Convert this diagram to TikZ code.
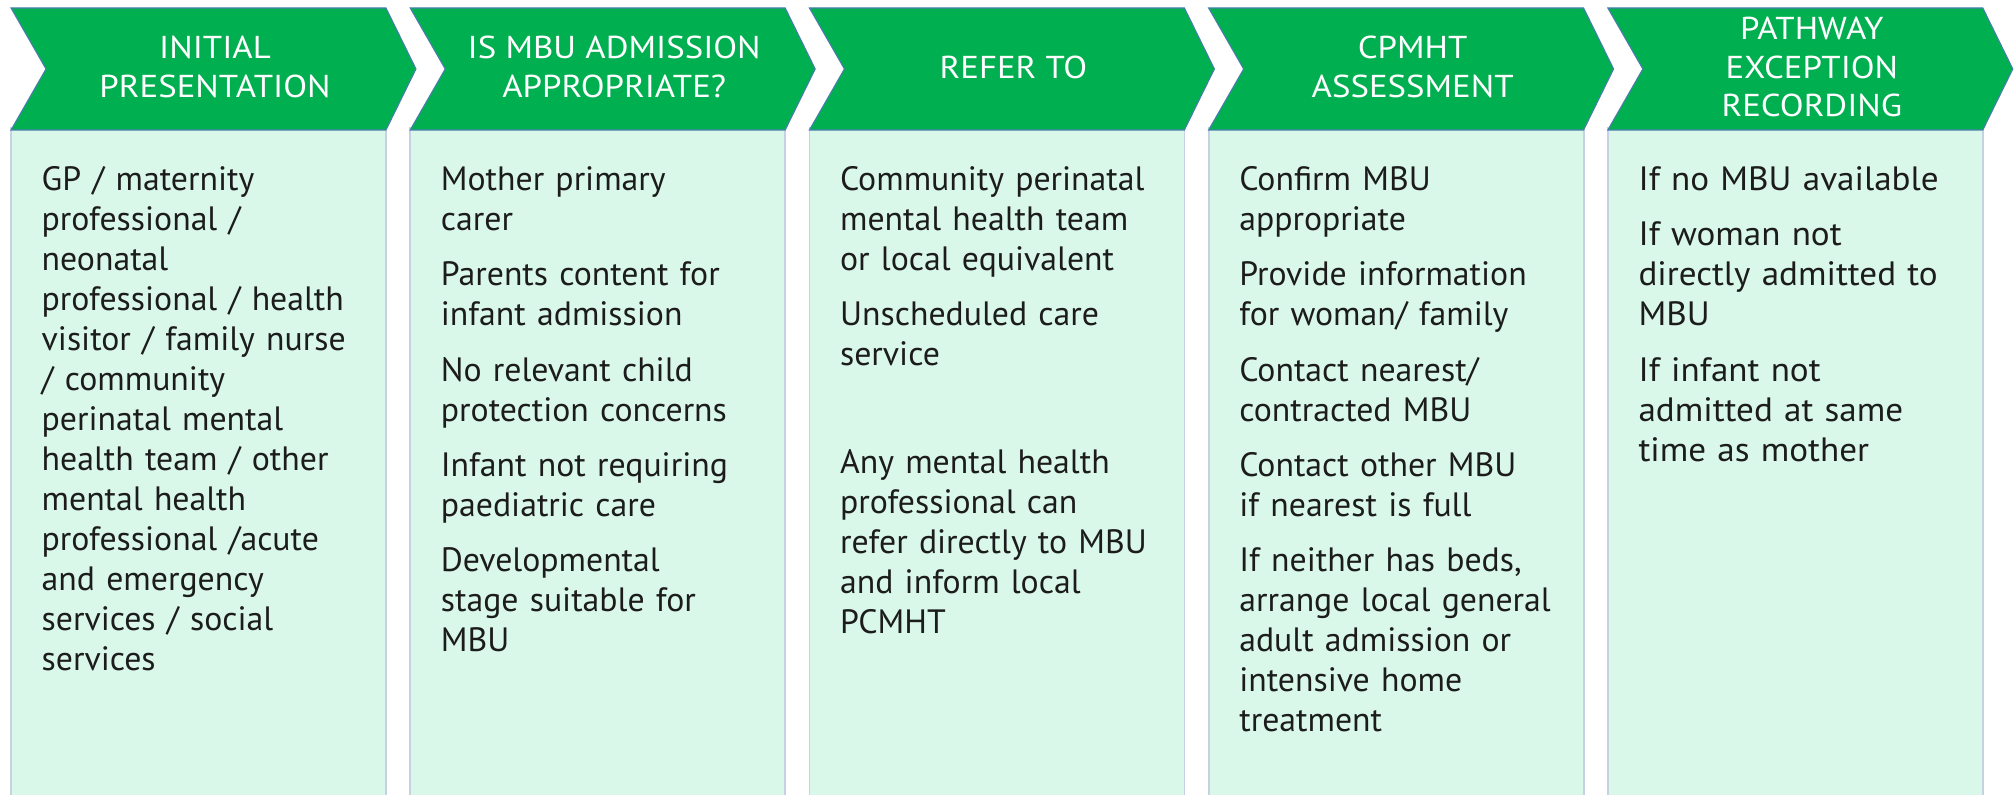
\documentclass[tikz,border=0pt]{standalone}
\usepackage{fontspec}
\setmainfont{PT Sans}
\newfontfamily\headfont[FakeStretch=1.1]{PT Sans}
\newfontfamily\widefont[FakeStretch=1.04]{PT Sans}
\definecolor{chevgreen}{HTML}{00B050}
\definecolor{chevedge}{HTML}{4A7DAE}
\definecolor{boxmint}{HTML}{D9F8E9}
\definecolor{boxedge}{HTML}{C6D2E3}
\definecolor{bodytext}{HTML}{1C1C1C}
\tikzset{
  chev/.style={fill=chevgreen, draw=chevedge, line width=0.3pt},
  panel/.style={fill=boxmint, draw=boxedge, line width=0.5pt},
  head/.style={text=white, align=center, inner sep=0pt,
    font=\headfont\fontsize{9pt}{11pt}\selectfont},
  body/.style={text=bodytext, align=left, text width=3.45cm, anchor=north west,
    inner sep=0pt, font=\fontsize{9.6pt}{11.38pt}\selectfont},
}
\begin{document}
\begin{tikzpicture}[x=0.01cm, y=-0.01cm]
    \useasboundingbox (0,0) rectangle (2016,795);
    \clip (0,0) rectangle (2016,795);
    % one panel and one chevron per stage
    \foreach \i/\name in {0/init,1/mbu,2/refer,3/cpmht,4/except} {
        \pgfmathsetmacro\xl{11+399.2*\i}
        \draw[panel] (\xl,128) rectangle ++(375,700);
        \draw[chev] (\xl,8) -- ++(375,0) -- ++(30,61) -- ++(-30,61)
            -- ++(-375,0) -- ++(35,-61) -- cycle;
        \coordinate (\name) at (\xl+204,67);
        \coordinate (\name T) at (\xl+30,162);
    }
    \node[head] (initH) at (init) {INITIAL\\PRESENTATION};
    \node[head] (mbuH) at (mbu) {IS MBU ADMISSION\\APPROPRIATE?};
    \node[head] (referH) at (refer) {REFER TO};
    \node[head] (cpmhtH) at (cpmht) {CPMHT\\ASSESSMENT};
    \node[head] (exceptH) at (except) {PATHWAY\\EXCEPTION\\RECORDING};
    % panel texts
    \node[body] (initB) at (initT) {\strut GP / maternity\\
        professional /\\ neonatal\\ professional / health\\
        visitor / family nurse\\ / community\\ perinatal mental\\
        health team / other\\ mental health\\ professional /acute\\
        and emergency\\ services / social\\ services};
    \node[body] (mbuB) at (mbuT) {\strut Mother primary\\ carer\\[4.3pt]
        Parents content for\\ infant admission\\[4.3pt]
        No relevant child\\ protection concerns\\[4.3pt]
        Infant not requiring\\ paediatric care\\[4.3pt]
        Developmental\\ stage suitable for\\ MBU};
    \node[body] (referB) at (referT) {\strut Community perinatal\\
        mental health team\\ or local equivalent\\[4.3pt]
        Unscheduled care\\ service\\[19.3pt]
        Any mental health\\ professional can\\ refer directly to MBU\\
        and inform local\\ PCMHT};
    \node[body] (cpmhtB) at (cpmhtT) {\strut Confirm MBU\\ appropriate\\[4.3pt]
        Provide information\\ for woman/ family\\[4.3pt]
        Contact nearest/\\ contracted MBU\\[4.3pt]
        Contact other MBU\\ if nearest is full\\[4.3pt]
        If neither has beds,\\ arrange local general\\ adult admission or\\
        intensive home\\ treatment};
    \node[body, font=\widefont\fontsize{9.6pt}{11.38pt}\selectfont] (exceptB) at (exceptT)
        {\strut If no MBU available\\[4.3pt]
        If woman not\\ directly admitted to\\ MBU\\[4.3pt]
        If infant not\\ admitted at same\\ time as mother};
\end{tikzpicture}
\end{document}
